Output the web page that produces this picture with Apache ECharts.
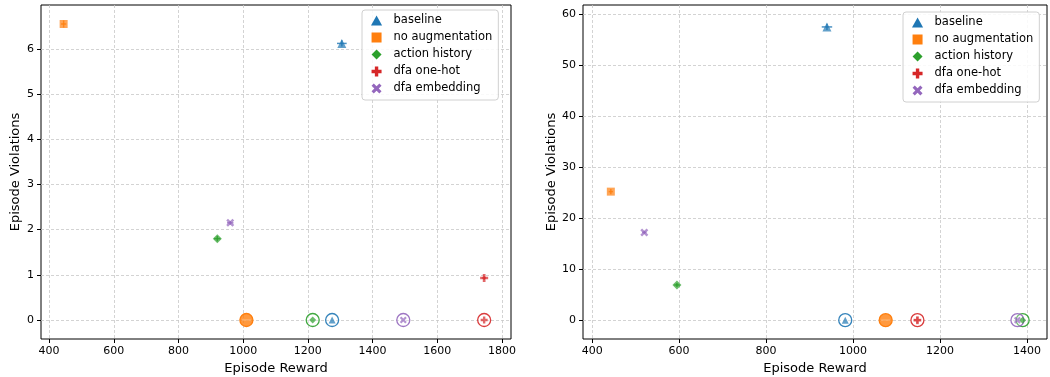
<!DOCTYPE html>
<html><head><meta charset="utf-8">
<script src="https://cdn.jsdelivr.net/npm/echarts@6/dist/echarts.min.js"></script>
<style>html,body{margin:0;padding:0;background:#fff}#c{width:1050px;height:377px}</style>
</head><body><div id="c"></div>
<script>
const methods = ['baseline', 'no augmentation', 'action history', 'dfa one-hot', 'dfa embedding'];
const colors = ['#1f77b4', '#ff7f0e', '#2ca02c', '#d62728', '#9467bd'];

// left panel
const leftReward = [1305, 445, 920, 1745, 960];
const leftViol = [6.12, 6.55, 1.80, 0.93, 2.15];
const leftRewardErr = [15, 8, 10, 6, 10];
const leftViolErr = [0.07, 0.08, 0.06, 0.04, 0.04];
const leftZeroReward = [1275, 1010, 1215, 1745, 1495];
const leftZeroViol = [0, 0, 0, 0, 0];
const leftXTicks = [400, 600, 800, 1000, 1200, 1400, 1600, 1800];
const leftYTicks = [0, 1, 2, 3, 4, 5, 6];

// right panel
const rightReward = [940, 443, 595, 1148, 520];
const rightViol = [57.5, 25.2, 6.9, 0, 17.2];
const rightRewardErr = [12, 5, 6, 0, 5];
const rightViolErr = [0.6, 0.5, 0.4, 0, 0.3];
const rightZeroReward = [982, 1075, 1390, 1148, 1378];
const rightZeroViol = [0, 0, 0, 0, 0];
const rightXTicks = [400, 600, 800, 1000, 1200, 1400];
const rightYTicks = [0, 10, 20, 30, 40, 50, 60];

const TRI = 'path://M5,0 L10,9 L0,9 Z';
const SQR = 'path://M0,0 H10 V10 H0 Z';
const DIA = 'path://M5,0 L10,5 L5,10 L0,5 Z';
const PLUS = 'path://M3.3,0 H6.7 V3.3 H10 V6.7 H6.7 V10 H3.3 V6.7 H0 V3.3 H3.3 Z';
const XMARK = 'path://M2.2,0 L5,2.8 L7.8,0 L10,2.2 L7.2,5 L10,7.8 L7.8,10 L5,7.2 L2.2,10 L0,7.8 L2.8,5 L0,2.2 Z';
const symbols = [TRI, SQR, DIA, PLUS, XMARK];
const symSizes = [9, 8, 9, 8, 8];

const FONT = 'DejaVu Sans';
const fmt = v => String(v);

function xAxis(gi, min, max, ticks) {
  return {
    type: 'value', gridIndex: gi, min: min, max: max,
    name: 'Episode Reward', nameLocation: 'middle', nameGap: 23,
    nameTextStyle: {fontFamily: FONT, fontSize: 13, color: '#000'},
    axisLine: {show: false, onZero: false},
    axisTick: {show: true, inside: false, length: 4, lineStyle: {color: '#000'}, customValues: ticks},
    axisLabel: {fontFamily: FONT, fontSize: 11, color: '#000', margin: 7, customValues: ticks, formatter: fmt},
    splitLine: {show: true, lineStyle: {color: '#c8c8c8', type: [3, 2], width: 0.8}}
  };
}
function yAxis(gi, min, max, ticks, gap) {
  return {
    type: 'value', gridIndex: gi, min: min, max: max,
    name: 'Episode Violations', nameLocation: 'middle', nameGap: gap,
    nameTextStyle: {fontFamily: FONT, fontSize: 13, color: '#000'},
    axisLine: {show: false, onZero: false},
    axisTick: {show: true, inside: false, length: 4, lineStyle: {color: '#000'}, customValues: ticks},
    axisLabel: {fontFamily: FONT, fontSize: 11, color: '#000', margin: 7, customValues: ticks, formatter: fmt},
    splitLine: {show: true, lineStyle: {color: '#c8c8c8', type: [3, 2], width: 0.8}}
  };
}

function panelSeries(gi, rew, viol, rErr, vErr, zr, zv) {
  const out = [];
  methods.forEach((m, i) => {
    if (rErr[i] > 0 || vErr[i] > 0) {
      out.push({
        type: 'custom', name: m, xAxisIndex: gi, yAxisIndex: gi, z: 3,
        data: [[rew[i], viol[i], rErr[i], vErr[i]]],
        renderItem: function (params, api) {
          const x = api.value(0), y = api.value(1), ex = api.value(2), ey = api.value(3);
          const a = api.coord([x - ex, y]), b = api.coord([x + ex, y]);
          const c = api.coord([x, y - ey]), d = api.coord([x, y + ey]);
          const st = {stroke: colors[i], lineWidth: 1.5, opacity: 0.8};
          return {type: 'group', children: [
            {type: 'line', shape: {x1: a[0], y1: a[1], x2: b[0], y2: b[1]}, style: st},
            {type: 'line', shape: {x1: c[0], y1: c[1], x2: d[0], y2: d[1]}, style: st}
          ]};
        }
      });
    }
    out.push({
      type: 'scatter', name: m, xAxisIndex: gi, yAxisIndex: gi, z: 4,
      symbol: symbols[i], symbolSize: symSizes[i],
      itemStyle: {color: colors[i], opacity: 0.7},
      data: [[rew[i], viol[i]]]
    });
    const filled = (i === 1);
    out.push({
      type: 'scatter', name: m, xAxisIndex: gi, yAxisIndex: gi, z: 5,
      symbol: 'circle', symbolSize: 13,
      itemStyle: {color: filled ? 'rgba(255,127,14,0.8)' : 'rgba(255,255,255,0.35)',
                  borderColor: colors[i], borderWidth: 1.3, opacity: filled ? 1 : 0.9},
      data: [[zr[i], zv[i]]]
    });
    out.push({
      type: 'scatter', name: m, xAxisIndex: gi, yAxisIndex: gi, z: 6,
      symbol: filled ? 'rect' : symbols[i], symbolSize: filled ? [9, 1.5] : 7,
      itemStyle: {color: filled ? 'rgba(255,255,255,0.35)' : colors[i], opacity: 0.7},
      data: [[zr[i], zv[i]]]
    });
  });
  return out;
}

function legend(left, top) {
  return {
    left: left, top: top, orient: 'vertical',
    backgroundColor: 'rgba(255,255,255,0.85)', borderColor: '#d0d0d0', borderWidth: 1, borderRadius: 3,
    padding: [4, 6, 5, 9], itemWidth: 24, itemHeight: 10, itemGap: 4,
    symbolKeepAspect: true,
    textStyle: {fontFamily: FONT, fontSize: 11.5, color: '#000', lineHeight: 13},
    data: methods.map((m, i) => ({name: m, icon: symbols[i],
      itemStyle: {color: colors[i], opacity: 1}}))
  };
}

const chart = echarts.init(document.getElementById('c'), null, {renderer: 'canvas'});
chart.setOption({
  animation: false,
  backgroundColor: '#fff',
  grid: [
    {left: 41, top: 5, width: 470, height: 334, outerBoundsMode: 'none', containLabel: false,
     show: true, borderColor: '#000', borderWidth: 1, backgroundColor: 'transparent'},
    {left: 583, top: 5, width: 464, height: 334, outerBoundsMode: 'none', containLabel: false,
     show: true, borderColor: '#000', borderWidth: 1, backgroundColor: 'transparent'}
  ],
  xAxis: [xAxis(0, 375, 1828, leftXTicks), xAxis(1, 379, 1446, rightXTicks)],
  yAxis: [yAxis(0, -0.42, 6.97, leftYTicks, 19), yAxis(1, -3.7, 61.8, rightYTicks, 23)],
  legend: [legend(362, 10), legend(903, 12)],
  series: [].concat(
    panelSeries(0, leftReward, leftViol, leftRewardErr, leftViolErr, leftZeroReward, leftZeroViol),
    panelSeries(1, rightReward, rightViol, rightRewardErr, rightViolErr, rightZeroReward, rightZeroViol)
  )
});
</script></body></html>
